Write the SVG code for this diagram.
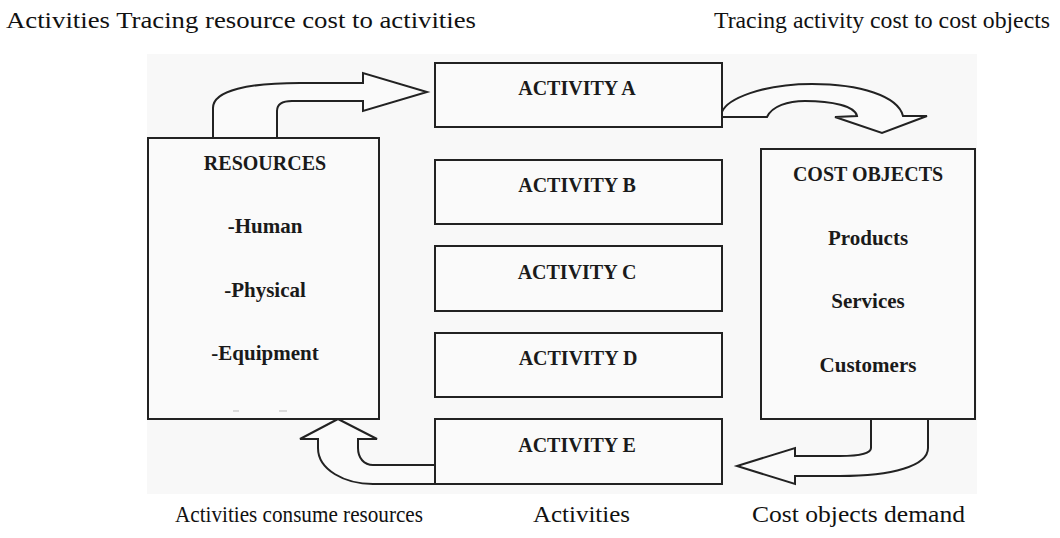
<svg xmlns="http://www.w3.org/2000/svg" width="1060" height="538" viewBox="0 0 1060 538">
  <style>
    .box { fill: #fafafa; stroke: #222; stroke-width: 2; }
    .flow { fill: #fafafa; stroke: #222; stroke-width: 2; stroke-linejoin: miter; }
    .title { font-family: "Liberation Serif", "Times New Roman", serif; font-weight: bold; font-size: 20px; fill: #1a1a1a; text-anchor: middle; }
    .item { font-family: "Liberation Serif", "Times New Roman", serif; font-weight: bold; font-size: 21px; fill: #1a1a1a; text-anchor: middle; }
    .caption { font-family: "Liberation Serif", "Times New Roman", serif; font-size: 24px; fill: #111; }
  </style>

  <rect x="0" y="0" width="1060" height="538" fill="#ffffff"/>
  <!-- light panel behind the model -->
  <rect x="147" y="54" width="830" height="440" fill="#f8f8f8"/>

  <!-- captions -->
  <text class="caption" x="6" y="28" textLength="470" lengthAdjust="spacingAndGlyphs">Activities Tracing resource cost to activities</text>
  <text class="caption" x="714" y="28" textLength="336" lengthAdjust="spacingAndGlyphs">Tracing activity cost to cost objects</text>
  <text class="caption" x="175" y="522" textLength="248" lengthAdjust="spacingAndGlyphs">Activities consume resources</text>
  <text class="caption" x="533" y="522" textLength="97" lengthAdjust="spacingAndGlyphs">Activities</text>
  <text class="caption" x="752" y="522" textLength="213" lengthAdjust="spacingAndGlyphs">Cost objects demand</text>

  <!-- connectors: block arrows -->
  <g id="connectors">
    <!-- resources to activity A -->
    <path class="flow" d="M213,138 L213,108 C213,90 250,83 300,83 L363,83 L363,73 L427,92 L363,111 L363,101 L292,101 C282,101 277,104 277,111 L277,138"/>
    <!-- activity A to cost objects -->
    <path class="flow" d="M722,117 L767,117 C772,106 788,101 805,101 C832,101 855,106 857,116 L835,117 L882,133 L927,116 L903,116 C898,96 860,84 812,84 C762,84 727,99 722,112"/>
    <!-- cost objects to activity E -->
    <path class="flow" d="M871,419 L871,448 C871,453 860,456 840,456 L795,456 L795,448 L737,466 L795,484 L795,476 L840,476 C892,476 928,466 928,448 L928,419"/>
    <!-- activity E to resources -->
    <path class="flow" d="M435,465 L373,465 C364,465 358,458 358,448 L358,439 L377,439 L338,419 L300,439 L318,439 L318,448 C318,470 345,484 373,484 L435,484"/>
  </g>

  <g id="resources">
    <rect class="box" x="148" y="138" width="231" height="281"/>
    <text class="title" x="265" y="170" font-size="21">RESOURCES</text>
    <text class="item" x="265" y="233">-Human</text>
    <text class="item" x="265" y="297">-Physical</text>
    <text class="item" x="265" y="360">-Equipment</text>
    <line x1="233" y1="411" x2="239" y2="411" stroke="#bbb" stroke-width="1"/>
    <line x1="279" y1="411" x2="287" y2="411" stroke="#bbb" stroke-width="1"/>
  </g>

  <g id="activity-a">
    <rect class="box" x="435" y="63" width="287" height="64"/>
    <text class="title" x="577" y="95">ACTIVITY A</text>
  </g>
  <g id="activity-b">
    <rect class="box" x="435" y="160" width="287" height="64"/>
    <text class="title" x="577" y="192">ACTIVITY B</text>
  </g>
  <g id="activity-c">
    <rect class="box" x="435" y="246" width="287" height="65"/>
    <text class="title" x="577" y="279" font-size="18">ACTIVITY C</text>
  </g>
  <g id="activity-d">
    <rect class="box" x="435" y="333" width="287" height="64"/>
    <text class="title" x="578" y="365">ACTIVITY D</text>
  </g>
  <g id="activity-e">
    <rect class="box" x="435" y="419" width="287" height="65"/>
    <text class="title" x="577" y="452">ACTIVITY E</text>
  </g>

  <g id="cost-objects">
    <rect class="box" x="761" y="149" width="214" height="270"/>
    <text class="title" x="868" y="181" font-size="21">COST OBJECTS</text>
    <text class="item" x="868" y="245" font-size="20.5">Products</text>
    <text class="item" x="868" y="308" font-size="20.5">Services</text>
    <text class="item" x="868" y="372" font-size="21">Customers</text>
  </g>
</svg>
